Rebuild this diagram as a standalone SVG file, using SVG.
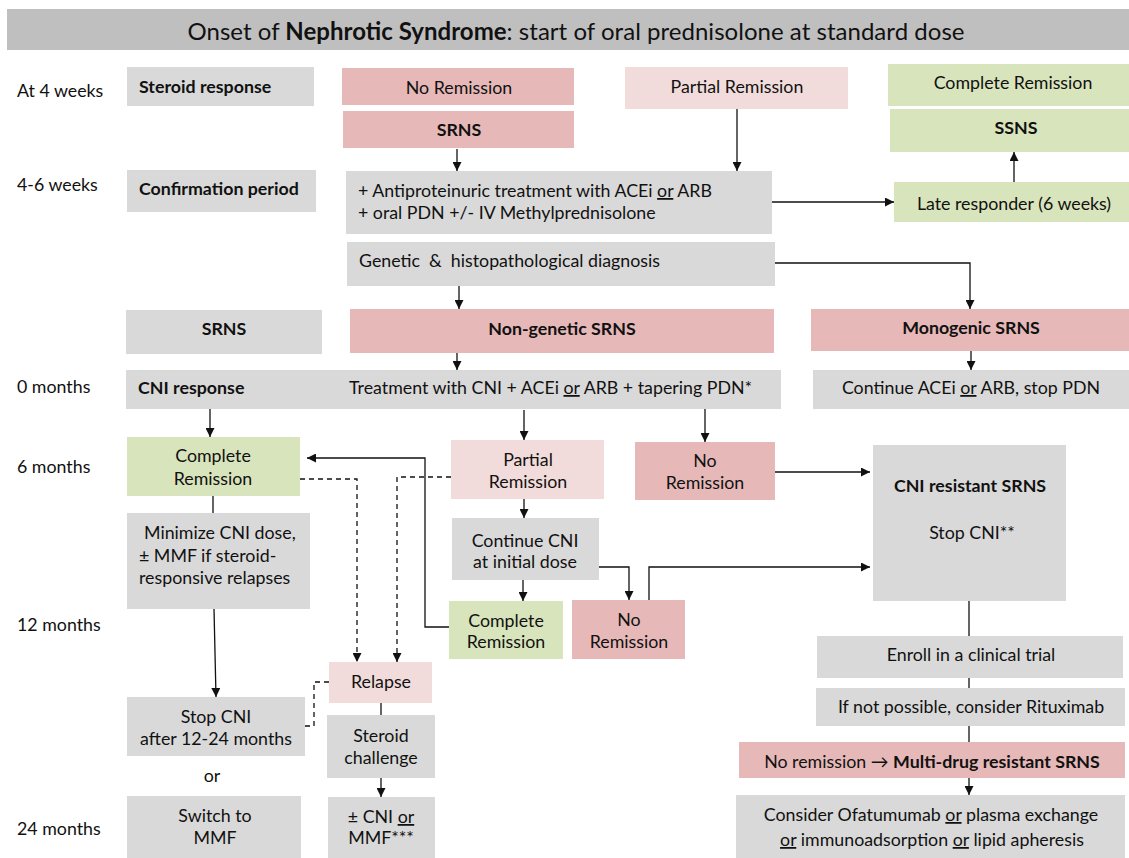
<svg xmlns="http://www.w3.org/2000/svg" width="1129" height="858" viewBox="0 0 1129 858">
<style>
text{font-family:Lato,"Liberation Sans",sans-serif;font-size:17.8px;fill:#111}
.b{font-weight:bold}
.m{text-anchor:middle}
.u{text-decoration:underline}
.gy{fill:#d9d9d9}
.pk{fill:#e6b8b7}
.lp{fill:#f2dcdb}
.gr{fill:#d8e4bc}
.ln{fill:none;stroke:#111;stroke-width:1.3}
.ar{marker-end:url(#ah)}
.d{stroke-dasharray:5,4}
</style>
<defs>
<marker id="ah" viewBox="0 0 10 10" refX="10" refY="5" markerWidth="9" markerHeight="9" markerUnits="userSpaceOnUse" orient="auto">
<path d="M0,0 L10,5 L0,10 z" fill="#111"/>
</marker>
</defs>
<rect width="1129" height="858" fill="#fff"/>
<g id="title">
<rect x="7" y="9" width="1122" height="41" fill="#bfbfbf"/>
<text x="576" y="40" class="m" style="font-size:24px" textLength="777">Onset of <tspan class="b">Nephrotic Syndrome</tspan>: start of oral prednisolone at standard dose</text>
</g>
<g id="timeline">
<text x="17" y="97">At 4 weeks</text>
<text x="17" y="191">4-6 weeks</text>
<text x="17" y="393">0 months</text>
<text x="17" y="473">6 months</text>
<text x="17" y="631">12 months</text>
<text x="17" y="835">24 months</text>
</g>
<g id="steroid-response"><rect x="127" y="67" width="187" height="39" class="gy"/><text x="139" y="93" class="b">Steroid response</text></g>
<g id="no-remission-top"><rect x="342" y="68" width="232" height="37" class="pk"/><text x="459" y="94" class="m">No Remission</text></g>
<g id="srns-top"><rect x="343" y="111" width="231" height="37" class="pk"/><text x="459" y="136" class="m b">SRNS</text></g>
<g id="partial-top"><rect x="625" y="67" width="223" height="42" class="lp"/><text x="737" y="93" class="m">Partial Remission</text></g>
<g id="complete-top"><rect x="888" y="64" width="241" height="42" class="gr"/><text x="1013" y="89" class="m">Complete Remission</text></g>
<g id="ssns"><rect x="890" y="109" width="239" height="43" class="gr"/><text x="1016" y="134" class="m b">SSNS</text></g>
<g id="confirmation"><rect x="127" y="170" width="189" height="42" class="gy"/><text x="139" y="195" class="b">Confirmation period</text></g>
<g id="treatment-confirm"><rect x="346" y="171" width="426" height="63" class="gy"/>
<text x="358" y="197">+ Antiproteinuric treatment with ACEi <tspan class="u">or</tspan> ARB</text>
<text x="358" y="219">+ oral PDN +/- IV Methylprednisolone</text></g>
<g id="late-responder"><rect x="894" y="182" width="235" height="40" class="gr"/><text x="1014" y="210" class="m">Late responder (6 weeks)</text></g>
<g id="genetic"><rect x="347" y="242" width="428" height="44" class="gy"/><text x="359" y="267" style="white-space:pre">Genetic  &amp;  histopathological diagnosis</text></g>
<g id="srns-label"><rect x="126" y="310" width="196" height="44" class="gy"/><text x="224" y="335" class="m b">SRNS</text></g>
<g id="non-genetic"><rect x="350" y="309" width="424" height="44" class="pk"/><text x="562" y="335" class="m b">Non-genetic SRNS</text></g>
<g id="monogenic"><rect x="811" y="309" width="318" height="42" class="pk"/><text x="971" y="334" class="m b">Monogenic SRNS</text></g>
<g id="cni-treatment"><rect x="126" y="370" width="655" height="39" class="gy"/>
<text x="138" y="394" class="b">CNI response</text>
<text x="349" y="394">Treatment with CNI + ACEi <tspan class="u">or</tspan> ARB + tapering PDN*</text></g>
<g id="continue-acei"><rect x="813" y="370" width="316" height="39" class="gy"/><text x="971" y="394" class="m">Continue ACEi <tspan class="u">or</tspan> ARB, stop PDN</text></g>
<g id="complete-6m"><rect x="127" y="437" width="173" height="59" class="gr"/><text x="213" y="462" class="m">Complete</text><text x="213" y="485" class="m">Remission</text></g>
<g id="partial-6m"><rect x="451" y="440" width="153" height="59" class="lp"/><text x="528" y="466" class="m">Partial</text><text x="528" y="488" class="m">Remission</text></g>
<g id="no-remission-6m"><rect x="635" y="442" width="140" height="58" class="pk"/><text x="705" y="467" class="m">No</text><text x="705" y="489" class="m">Remission</text></g>
<g id="cni-resistant"><rect x="873" y="445" width="193" height="156" class="gy"/><text x="970" y="492" class="m b">CNI resistant SRNS</text><text x="972" y="539" class="m">Stop CNI**</text></g>
<g id="minimize"><rect x="127" y="513" width="183" height="96" class="gy"/>
<text x="144" y="539">Minimize CNI dose,</text>
<text x="139" y="562">± MMF if steroid-</text>
<text x="139" y="584">responsive relapses</text></g>
<g id="continue-cni"><rect x="452" y="518" width="147" height="62" class="gy"/><text x="525" y="547" class="m">Continue CNI</text><text x="525" y="568" class="m">at initial dose</text></g>
<g id="complete-12m"><rect x="449" y="601" width="114" height="58" class="gr"/><text x="506" y="627" class="m">Complete</text><text x="506" y="648" class="m">Remission</text></g>
<g id="no-remission-12m"><rect x="572" y="600" width="113" height="59" class="pk"/><text x="629" y="626" class="m">No</text><text x="629" y="648" class="m">Remission</text></g>
<g id="enroll"><rect x="817" y="636" width="306" height="42" class="gy"/><text x="971" y="661" class="m">Enroll in a clinical trial</text></g>
<g id="relapse"><rect x="329" y="662" width="103" height="41" class="lp"/><text x="381" y="688" class="m">Relapse</text></g>
<g id="rituximab"><rect x="816" y="688" width="309" height="38" class="gy"/><text x="971" y="713" class="m">If not possible, consider Rituximab</text></g>
<g id="stop-cni"><rect x="127" y="697" width="178" height="59" class="gy"/><text x="216" y="723" class="m">Stop CNI</text><text x="216" y="745" class="m">after 12-24 months</text></g>
<g id="steroid-challenge"><rect x="327" y="715" width="108" height="63" class="gy"/><text x="381" y="742" class="m">Steroid</text><text x="381" y="764" class="m">challenge</text></g>
<g id="multi-drug"><rect x="739" y="742" width="386" height="36" class="pk"/><text x="932" y="768" class="m">No remission → <tspan class="b">Multi-drug resistant SRNS</tspan></text></g>
<g id="or-label"><text x="212" y="782" class="m">or</text></g>
<g id="switch-mmf"><rect x="127" y="796" width="174" height="62" class="gy"/><text x="215" y="822" class="m">Switch to</text><text x="215" y="844" class="m">MMF</text></g>
<g id="cni-or-mmf"><rect x="328" y="797" width="107" height="61" class="gy"/><text x="381" y="823" class="m">± CNI <tspan class="u">or</tspan></text><text x="381" y="844" class="m">MMF***</text></g>
<g id="consider"><rect x="736" y="795" width="389" height="63" class="gy"/>
<text x="931" y="821" class="m">Consider Ofatumumab <tspan class="u">or</tspan> plasma exchange</text>
<text x="932" y="846" class="m"><tspan class="u">or</tspan> immunoadsorption <tspan class="u">or</tspan> lipid apheresis</text></g>
<g id="connectors">
<path class="ln ar" d="M457,149 V171"/>
<path class="ln ar" d="M737,109 V171"/>
<path class="ln ar" d="M772,202 H894"/>
<path class="ln ar" d="M1014,182 V152"/>
<path class="ln ar" d="M459,286 V309"/>
<path class="ln ar" d="M775,263 H970 V309"/>
<path class="ln ar" d="M457,353 V370"/>
<path class="ln ar" d="M971,351 V370"/>
<path class="ln ar" d="M210,409 V437"/>
<path class="ln ar" d="M524,410 V440"/>
<path class="ln ar" d="M705,409 V442"/>
<path class="ln ar" d="M775,472 H870"/>
<path class="ln" d="M213,496 V513"/>
<path class="ln ar" d="M214,609 L216,697"/>
<path class="ln ar" d="M524,499 V518"/>
<path class="ln ar" d="M523,580 V601"/>
<path class="ln ar" d="M449,627 H425 V458 H307"/>
<path class="ln ar" d="M599,567 H629 V600"/>
<path class="ln ar" d="M649,600 V567 H870"/>
<path class="ln ar d" d="M300,479 H357 V662"/>
<path class="ln ar d" d="M451,477 H397 V662"/>
<path class="ln d" d="M305,726 H314 V682 H329"/>
<path class="ln" d="M381,703 V715"/>
<path class="ln ar" d="M381,778 V797"/>
<path class="ln" d="M969,601 V636"/>
<path class="ln" d="M969,678 V688"/>
<path class="ln" d="M969,726 V742"/>
<path class="ln ar" d="M969,778 V795"/>
</g>
</svg>
